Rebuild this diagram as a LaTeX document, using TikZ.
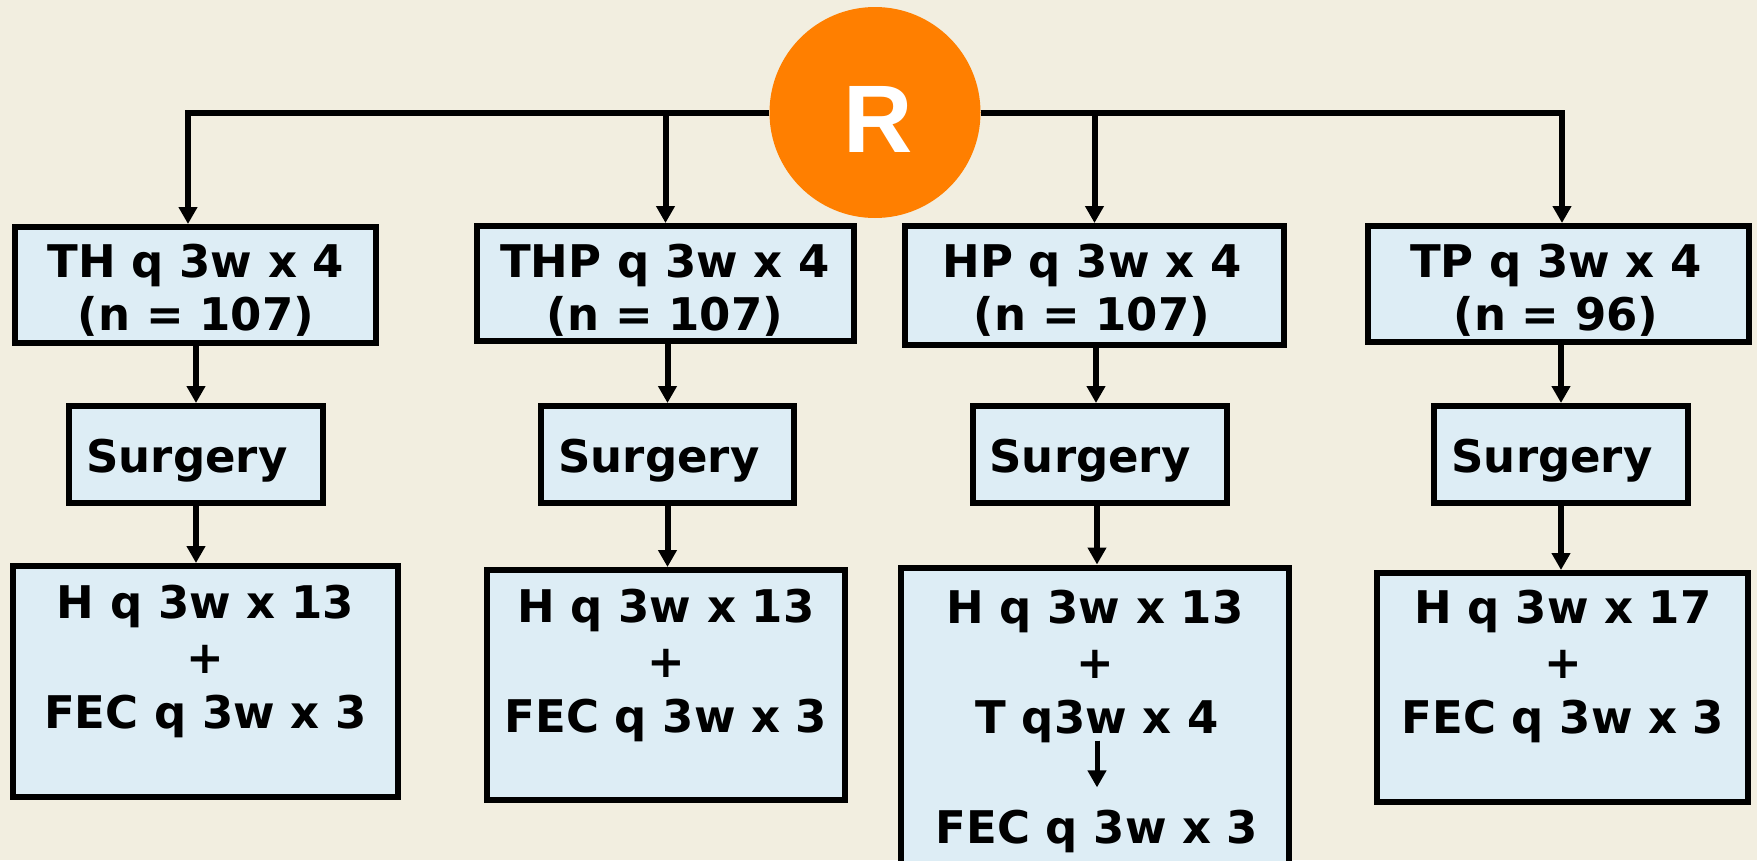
\documentclass[tikz,border=0pt]{standalone}
\usepackage{fontspec}
\setmainfont{DejaVu Sans}
\newfontfamily\rfont{Liberation Sans}
\usetikzlibrary{arrows.meta}
\definecolor{paper}{RGB}{242,238,224}
\definecolor{boxfill}{RGB}{221,237,245}
\definecolor{rorange}{RGB}{255,127,0}
\tikzset{
  box/.style={draw=black, line width=6pt, fill=boxfill, rectangle, inner sep=0pt},
  txt/.style={anchor=base, inner sep=0pt, font=\bfseries\fontsize{45}{55}\selectfont},
  link/.style={line width=6pt, -{Triangle[length=17pt,width=18pt]}},
}
\begin{document}
\begin{tikzpicture}[x=1pt,y=-1pt]
\useasboundingbox (0,0) rectangle (1757,860);
\fill[paper] (0,0) rectangle (1757,860);
\clip (0,0) rectangle (1757,860);

% randomisation
\node[circle, fill=rorange, minimum size=211pt, inner sep=0pt] (R) at (875,112.5) {};
\node[anchor=base, inner sep=0pt, text=white, font=\rfont\bfseries\fontsize{96}{110}\selectfont] (rl) at (878.5,152) {R};

% first cycle arms
\node[box, minimum width=361pt, minimum height=116pt] (th)  at (195,285)    {};
\node[box, minimum width=377pt, minimum height=115pt] (thp) at (665.5,283.5) {};
\node[box, minimum width=379pt, minimum height=119pt] (hp)  at (1094.5,285.5) {};
\node[box, minimum width=381pt, minimum height=116pt] (tp)  at (1558.5,284) {};

\node[txt] (th1)  at (196,277)  {TH q 3w x 4};
\node[txt] (th2)  at (196,330)  {(n = 107)};
\node[txt] (thp1) at (665,277)  {THP q 3w x 4};
\node[txt] (thp2) at (665,330)  {(n = 107)};
\node[txt] (hp1)  at (1092,277) {HP q 3w x 4};
\node[txt] (hp2)  at (1092,330) {(n = 107)};
\node[txt] (tp1)  at (1556,277) {TP q 3w x 4};
\node[txt] (tp2)  at (1556,330) {(n = 96)};

% surgery
\node[box, minimum width=254pt, minimum height=97pt] (s1) at (196,454.5)  {};
\node[box, minimum width=253pt, minimum height=97pt] (s2) at (667.5,454.5) {};
\node[box, minimum width=254pt, minimum height=97pt] (s3) at (1100,454.5) {};
\node[box, minimum width=254pt, minimum height=97pt] (s4) at (1561,454.5) {};
\node[txt] (s1t) at (187,472)  {Surgery};
\node[txt] (s2t) at (659,472)  {Surgery};
\node[txt] (s3t) at (1090,472) {Surgery};
\node[txt] (s4t) at (1552,472) {Surgery};

% adjuvant treatment
\node[box, minimum width=385pt, minimum height=231pt] (r1) at (205.5,681.5) {};
\node[box, minimum width=358pt, minimum height=230pt] (r2) at (666,685)     {};
\node[box, minimum width=388pt, minimum height=330pt] (r3) at (1095,732.5)  {};
\node[box, minimum width=371pt, minimum height=229pt] (r4) at (1562.5,687.5) {};

\node[txt] (r1a) at (205.5,618) {H q 3w x 13};
\node[txt] (r1b) at (205.5,673) {+};
\node[txt] (r1c) at (205.5,728) {FEC q 3w x 3};

\node[txt] (r2a) at (666,622) {H q 3w x 13};
\node[txt] (r2b) at (666,677) {+};
\node[txt] (r2c) at (666,732) {FEC q 3w x 3};

\node[txt] (r3a) at (1095,623) {H q 3w x 13};
\node[txt] (r3b) at (1095,678) {+};
\node[txt] (r3c) at (1097,733) {T q3w x 4};
\node[txt] (r3d) at (1097,843) {FEC q 3w x 3};

\node[txt] (r4a) at (1563,623) {H q 3w x 17};
\node[txt] (r4b) at (1563,678) {+};
\node[txt] (r4c) at (1563,733) {FEC q 3w x 3};

% connectors from R to the arms
\draw[link] (R.west) -| ([xshift=-7pt]th.north);
\draw[link] (R.west) -| (thp.north);
\draw[link] (R.east) -| (hp.north);
\draw[link] (R.east) -| ([xshift=3.5pt]tp.north);

% arms to surgery
\draw[link] (th.south -| s1.north)  -- (s1.north);
\draw[link] (thp.south -| s2.north) -- (s2.north);
\draw[link] ([xshift=-4pt]hp.south -| s3.north) -- ([xshift=-4pt]s3.north);
\draw[link] (tp.south -| s4.north)  -- (s4.north);

% surgery to adjuvant treatment
\draw[link] (s1.south) -- (s1.south |- r1.north);
\draw[link] (s2.south) -- (s2.south |- r2.north);
\draw[link] ([xshift=-3pt]s3.south) -- ([xshift=-3pt]s3.south |- r3.north);
\draw[link] (s4.south) -- (s4.south |- r4.north);

% sequence within the HP arm
\draw[link, line width=5pt, shorten <=-2pt, shorten >=22pt] (r3c.south) -- (r3d.north);
\end{tikzpicture}
\end{document}
